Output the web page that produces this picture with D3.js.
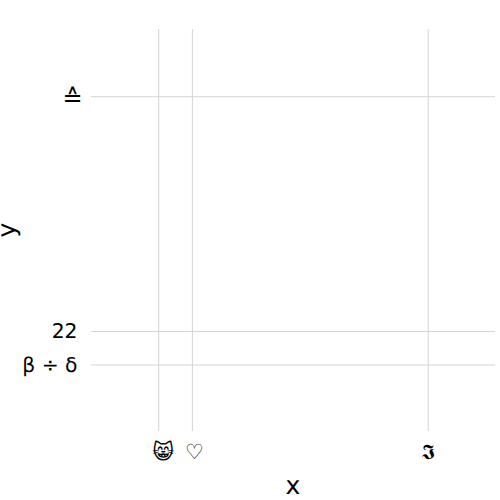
<!DOCTYPE html>
<html><head><meta charset="utf-8"><script src="https://cdn.jsdelivr.net/npm/d3@7"></script>
<style>html,body{margin:0;padding:0;background:#fff}svg{display:block}text{font-family:"DejaVu Sans";fill:#000;text-rendering:geometricPrecision}</style></head>
<body><svg id="c" width="500" height="500"></svg>
<script>
const xLabels=["😸","♡","𝕴"];
const xValues=[1,2,9];
const yLabels=["β ÷ δ","22","≙"];
const yValues=[1,2,9];
const svg=d3.select("#c");
const plotTop=29, plotBottom=431, plotLeft=91, plotRight=495;
const x=d3.scaleLinear().domain([1,9]).range([158.7,428.2]);
const y=d3.scaleLinear().domain([1,9]).range([365,96.7]);
const xAxis=d3.axisBottom(x).tickValues(xValues).tickSize(0).tickPadding(0).tickFormat((d,i)=>xLabels[i]);
const yAxis=d3.axisLeft(y).tickValues(yValues).tickSize(0).tickPadding(0).tickFormat((d,i)=>yLabels[i]);
svg.selectAll(".vg").data(xValues).join("line").attr("x1",d=>x(d)).attr("x2",d=>x(d)).attr("y1",plotTop).attr("y2",plotBottom).attr("stroke","#d4d4d4");
svg.selectAll(".hg").data(yValues).join("line").attr("y1",d=>y(d)).attr("y2",d=>y(d)).attr("x1",plotLeft).attr("x2",plotRight).attr("stroke","#d4d4d4");
const gx=svg.append("g").attr("transform","translate(0,444)").call(xAxis);
const gy=svg.append("g").attr("transform","translate(77.5,0)").call(yAxis);
gx.select(".domain").remove();gy.select(".domain").remove();
gx.selectAll("text").attr("font-size",21).attr("font-family","DejaVu Sans").attr("fill","#000").attr("dx",(d,i)=>[4,1.5,0][i]);
gx.selectAll("text").filter((d,i)=>i===2).attr("font-size",21).attr("y",0).attr("dx",-0.5);
gy.selectAll("text").attr("font-size",20.3).attr("font-family","DejaVu Sans").attr("fill","#000");
gy.selectAll("text").filter((d,i)=>i===2).attr("font-size",24).attr("dx",5).attr("dy","0.36em");
svg.append("text").attr("x",293).attr("y",494).attr("text-anchor","middle").attr("font-size",25).text("x");
svg.append("text").attr("transform","translate(15,230) rotate(-90)").attr("text-anchor","middle").attr("font-size",25).text("y");
</script></body></html>
